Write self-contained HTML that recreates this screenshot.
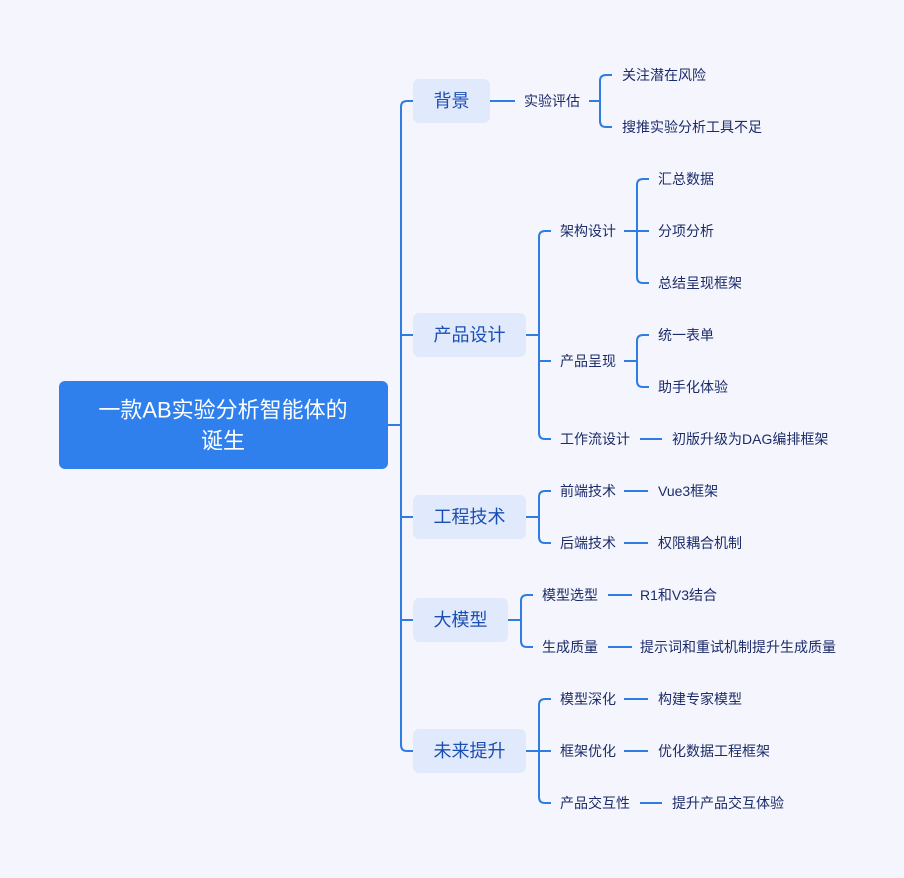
<!DOCTYPE html>
<html><head><meta charset="utf-8"><style>
html,body{margin:0;padding:0;background:#f5f6fd;}
svg{display:block;}
text{font-family:"Liberation Sans","Noto Sans CJK SC",sans-serif;dominant-baseline:central;}
.l{font-size:14px;fill:#1c2b6a;}
.b{font-size:18px;fill:#1b4eb2;text-anchor:middle;}
</style></head><body>
<svg width="904" height="878" viewBox="0 0 904 878">
<rect width="904" height="878" fill="#f5f6fd"/>
<g fill="none" stroke="#2f7de1" stroke-width="2">
<path d="M388,425 H401"/>
<path d="M413,101 H407 Q401,101 401,107 V745 Q401,751 407,751 H413 M401,335 H413 M401,517 H413 M401,620 H413"/>
<path d="M490,101 H515 M589,101 H600"/>
<path d="M612,75 H606 Q600,75 600,81 V121 Q600,127 606,127 H612"/>
<path d="M526,335 H539"/>
<path d="M551,231 H545 Q539,231 539,237 V433 Q539,439 545,439 H551 M539,361 H551"/>
<path d="M624,231 H637"/>
<path d="M649,179 H643 Q637,179 637,185 V277 Q637,283 643,283 H649 M637,231 H649"/>
<path d="M624,361 H637"/>
<path d="M649,335 H643 Q637,335 637,341 V381 Q637,387 643,387 H649"/>
<path d="M640,439 H662"/>
<path d="M526,517 H539"/>
<path d="M551,491 H545 Q539,491 539,497 V537 Q539,543 545,543 H551"/>
<path d="M624,491 H648 M624,543 H648"/>
<path d="M508,620 H521"/>
<path d="M533,595 H527 Q521,595 521,601 V641 Q521,647 527,647 H533"/>
<path d="M608,595 H632 M608,647 H632"/>
<path d="M526,751 H539"/>
<path d="M551,699 H545 Q539,699 539,705 V797 Q539,803 545,803 H551 M539,751 H551"/>
<path d="M624,699 H648 M624,751 H648 M640,803 H662"/>
</g>
<rect x="59" y="381" width="329" height="88" rx="6" fill="#2f80ec"/>
<text x="223" y="410" font-size="22" fill="#fff" text-anchor="middle">一款AB实验分析智能体的</text>
<text x="223" y="441" font-size="22" fill="#fff" text-anchor="middle">诞生</text>
<g fill="#e1eafd">
<rect x="413" y="79" width="77" height="44" rx="6"/>
<rect x="413" y="313" width="113" height="44" rx="6"/>
<rect x="413" y="495" width="113" height="44" rx="6"/>
<rect x="413" y="598" width="95" height="44" rx="6"/>
<rect x="413" y="729" width="113" height="44" rx="6"/>
</g>
<text class="b" x="451.5" y="101">背景</text>
<text class="b" x="469.5" y="335">产品设计</text>
<text class="b" x="469.5" y="517">工程技术</text>
<text class="b" x="460.5" y="620">大模型</text>
<text class="b" x="469.5" y="751">未来提升</text>
<text class="l" x="524" y="101">实验评估</text>
<text class="l" x="622" y="75">关注潜在风险</text>
<text class="l" x="622" y="127">搜推实验分析工具不足</text>
<text class="l" x="560" y="231">架构设计</text>
<text class="l" x="658" y="179">汇总数据</text>
<text class="l" x="658" y="231">分项分析</text>
<text class="l" x="658" y="283">总结呈现框架</text>
<text class="l" x="560" y="361">产品呈现</text>
<text class="l" x="658" y="335">统一表单</text>
<text class="l" x="658" y="387">助手化体验</text>
<text class="l" x="560" y="439">工作流设计</text>
<text class="l" x="672" y="439">初版升级为DAG编排框架</text>
<text class="l" x="560" y="491">前端技术</text>
<text class="l" x="658" y="491">Vue3框架</text>
<text class="l" x="560" y="543">后端技术</text>
<text class="l" x="658" y="543">权限耦合机制</text>
<text class="l" x="542" y="595">模型选型</text>
<text class="l" x="640" y="595">R1和V3结合</text>
<text class="l" x="542" y="647">生成质量</text>
<text class="l" x="640" y="647">提示词和重试机制提升生成质量</text>
<text class="l" x="560" y="699">模型深化</text>
<text class="l" x="658" y="699">构建专家模型</text>
<text class="l" x="560" y="751">框架优化</text>
<text class="l" x="658" y="751">优化数据工程框架</text>
<text class="l" x="560" y="803">产品交互性</text>
<text class="l" x="672" y="803">提升产品交互体验</text>
</svg>
</body></html>
